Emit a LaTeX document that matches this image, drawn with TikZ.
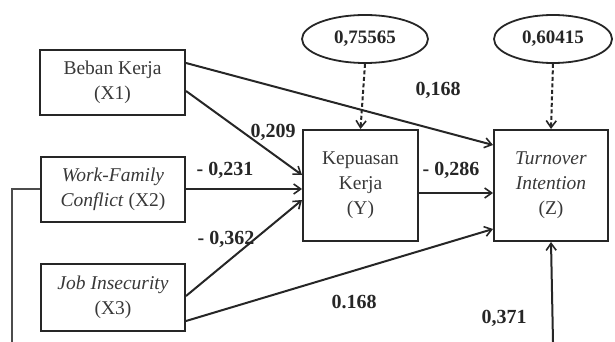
\documentclass[tikz,border=0pt]{standalone}
\usepackage{fontspec}
\setmainfont{Liberation Serif}
\usetikzlibrary{arrows.meta,shapes.geometric}
\definecolor{txt}{gray}{0.22}
\tikzset{
  box/.style={draw=black!85, line width=2pt, inner sep=0pt, align=center, text=txt,
    font=\fontsize{19.5}{25}\selectfont},
  oval/.style={draw=black!85, line width=1.8pt, ellipse, inner sep=0pt,
    font=\fontsize{19}{22}\selectfont\bfseries, text=black!85},
  arr/.style={draw=black!85, line width=2pt, -{Straight Barb[length=7pt,width=10pt,line width=1.6pt]}},
  darr/.style={arr, dash pattern=on 4pt off 2.5pt},
  plain/.style={draw=black!70, line width=1.5pt},
  lbl/.style={font=\fontsize{20}{22}\selectfont\bfseries, text=black!85, inner sep=0pt}
}
\begin{document}
\begin{tikzpicture}[x=1pt,y=-1pt]
\useasboundingbox (0,0) rectangle (615,342);
\node[box, minimum width=145pt, minimum height=65pt] (b) at (112.5,82.5) {Beban Kerja\\(X1)};
\node[box, minimum width=144pt, minimum height=65pt] (w) at (113,189.5) {\textit{Work-Family}\\\textit{Conflict} (X2)};
\node[box, minimum width=144pt, minimum height=67pt] (j) at (113,297.5) {\textit{Job Insecurity}\\(X3)};
\node[box, minimum width=115pt, minimum height=111pt] (y) at (360.5,185.5) {Kepuasan\\Kerja\\(Y)};
\node[box, minimum width=114pt, minimum height=111pt] (z) at (551,185.5) {\textit{Turnover}\\\textit{Intention}\\(Z)};
\node[oval, minimum width=126pt, minimum height=48pt] (e1) at (365,39) {0,75565};
\node[oval, minimum width=118pt, minimum height=48pt] (e2) at (553,39) {0,60415};
\coordinate (bl) at (12,342);
\coordinate (br) at (553,342);
\coordinate (lc) at (12,189);

\draw[arr] (b.east |- 0,63) -- (z.west |- 0,145);
\draw[arr] (b.east |- 0,91) -- (y.west |- 0,175);
\draw[arr] (w.east |- 0,189) -- (y.west |- 0,189);
\draw[arr] (j.east |- 0,296) -- (y.west |- 0,200);
\draw[arr] (j.east |- 0,321) -- (z.west |- 0,229);
\draw[arr] (y.east |- 0,193) -- (z.west |- 0,193);
\draw[arr] (br) -- (z.south);
\draw[plain] (w.west |- lc) -- (lc) -- (bl);
\draw[darr] (e1.south) -- (y.north);
\draw[darr] (e2.south) -- (z.north);

\node[lbl] (l1) at (438,90) {0,168};
\node[lbl] (l2) at (273,132) {0,209};
\node[lbl] (l3) at (225,170) {- 0,231};
\node[lbl] (l4) at (451,170) {- 0,286};
\node[lbl] (l5) at (226,239) {- 0,362};
\node[lbl] (l6) at (354,302) {0.168};
\node[lbl] (l7) at (504,318) {0,371};
\end{tikzpicture}
\end{document}
